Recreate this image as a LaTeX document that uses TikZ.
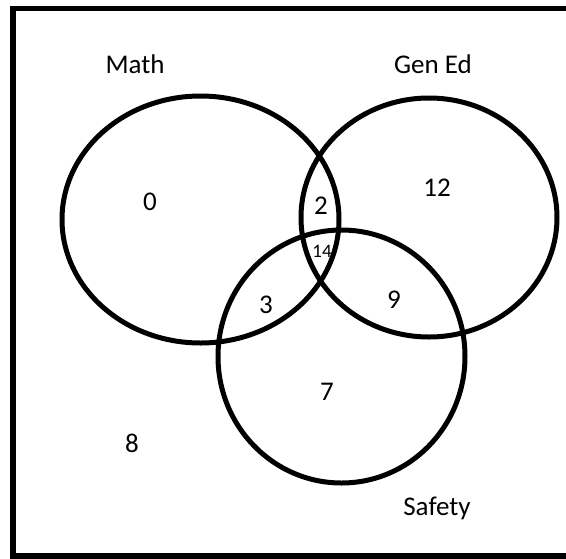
\documentclass[tikz,border=0pt]{standalone}
\usepackage{fontspec}
\setmainfont{Carlito}
\begin{document}
\begin{tikzpicture}[x=1pt,y=-1pt,
  setring/.style={line width=5pt,draw=black},
  lbl/.style={inner sep=0pt,font=\fontsize{27}{31}\selectfont},
  smalllbl/.style={inner sep=0pt,font=\fontsize{19}{22}\selectfont}]
\useasboundingbox (0,0) rectangle (566,558);
\clip (0,0) rectangle (566,558);
\draw[line width=5.5pt] (13,8.5) rectangle (580,556);
\draw[setring] (200.5,219.5) ellipse [x radius=138.5, y radius=123.5];
\draw[setring] (429,217.5) ellipse [x radius=128, y radius=119.5];
\draw[setring] (341.5,356.5) ellipse [x radius=123.5, y radius=126.5];
\node[lbl] (math) at (135,64) {Math};
\node[lbl] (gened) at (433,64) {Gen Ed};
\node[lbl] (safety) at (437,508) {Safety};
\node[lbl] (n0) at (150,202) {0};
\node[lbl] (n2) at (321,206) {2};
\node[lbl] (n12) at (437,188) {12};
\node[smalllbl] (n14) at (322,251) {14};
\node[lbl] (n3) at (266,305) {3};
\node[lbl] (n9) at (394,300) {9};
\node[lbl] (n7) at (327,392) {7};
\node[lbl] (n8) at (132,443) {8};
\end{tikzpicture}
\end{document}
